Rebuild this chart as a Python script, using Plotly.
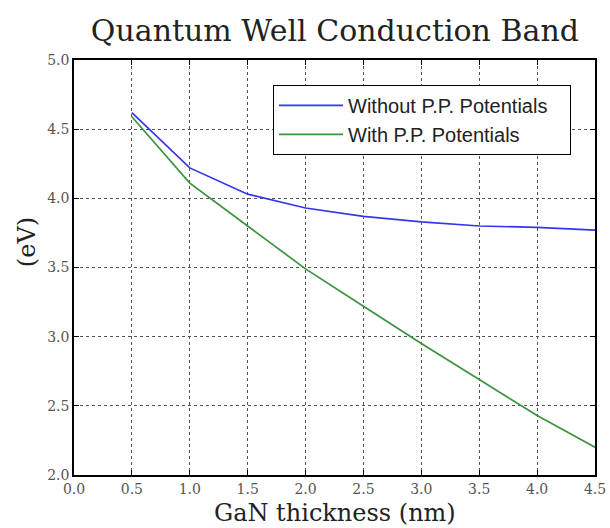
import plotly.graph_objects as go

# GaN thickness (nm) vs conduction band energy (eV)
thickness = [0.5, 1.0, 1.5, 2.0, 2.5, 3.0, 3.5, 4.0, 4.5]
without_pp = [4.62, 4.22, 4.03, 3.93, 3.87, 3.83, 3.80, 3.79, 3.77]
with_pp = [4.59, 4.11, 3.80, 3.49, 3.22, 2.95, 2.69, 2.43, 2.20]

x_ticks = [0.0, 0.5, 1.0, 1.5, 2.0, 2.5, 3.0, 3.5, 4.0, 4.5]
y_ticks = [2.0, 2.5, 3.0, 3.5, 4.0, 4.5, 5.0]

serif = "DejaVu Serif"
pad = "\u00a0" * 3  # widens the legend box a little

fig = go.Figure()
fig.add_trace(go.Scatter(x=thickness, y=without_pp, mode="lines",
                         name="Without P.P. Potentials" + pad,
                         line=dict(color="#3535f0", width=1.7)))
fig.add_trace(go.Scatter(x=thickness, y=with_pp, mode="lines",
                         name="With P.P. Potentials",
                         line=dict(color="#3d933d", width=1.7)))

axis_common = dict(
    showline=True, linecolor="black", linewidth=1.5, mirror="ticks",
    ticks="inside", ticklen=5, tickcolor="black",
    showgrid=True, gridcolor="#555", griddash="dot", gridwidth=1,
    zeroline=False, automargin=False,
    tickfont=dict(family=serif, size=14, color="#555"),
)

fig.update_layout(
    width=610, height=528,
    margin=dict(l=74, r=15, t=60, b=53),
    paper_bgcolor="white", plot_bgcolor="white",
    title=dict(text="Quantum Well Conduction Band", x=0.549, xanchor="center",
               y=0.943, yanchor="middle", automargin=False,
               font=dict(family=serif, size=30, color="#222")),
    xaxis=dict(range=[0, 4.5], tickvals=x_ticks,
               ticktext=[f"{v:.1f}" for v in x_ticks], **axis_common),
    yaxis=dict(range=[2.0, 5.0], tickvals=y_ticks,
               ticktext=[f"{v:.1f}" for v in y_ticks], **axis_common),
    legend=dict(x=0.382, y=0.94, xanchor="left", yanchor="top",
                bgcolor="white", bordercolor="black", borderwidth=1,
                font=dict(family="Liberation Sans", size=20, color="#222"),
                itemwidth=64, tracegroupgap=0),
    showlegend=True,
)

# axis titles as annotations so they sit where the reference has them
fig.add_annotation(text="GaN thickness (nm)", xref="paper", yref="paper",
                   x=0.5, y=0, yshift=-38, xanchor="center", yanchor="middle",
                   showarrow=False, font=dict(family=serif, size=24, color="#222"))
fig.add_annotation(text="(eV)", xref="paper", yref="paper", textangle=-90,
                   x=0, xshift=-47, y=0.561, xanchor="center", yanchor="middle",
                   showarrow=False, font=dict(family=serif, size=24, color="#222"))

# drop the browser's default body margin so the figure fills the window
fig.write_html("out.html", config={"displayModeBar": False},
               post_script="document.body.style.margin='0';")
